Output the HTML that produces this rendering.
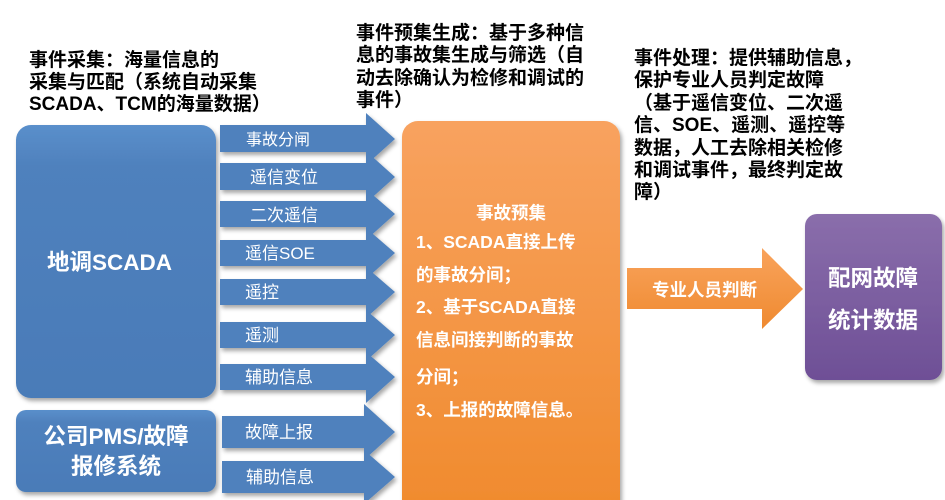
<!DOCTYPE html>
<html><head><meta charset="utf-8"><style>
html,body{margin:0;padding:0;background:#fff;width:945px;height:500px;overflow:hidden}
svg{display:block}
text{font-family:"Liberation Sans","Noto Sans CJK SC",sans-serif;font-weight:bold}
</style></head><body>
<svg width="945" height="500" viewBox="0 0 945 500" xmlns="http://www.w3.org/2000/svg">
<defs>
<linearGradient id="bl" x1="0" y1="0" x2="0" y2="1"><stop offset="0" stop-color="#5a8fcb"/><stop offset="0.15" stop-color="#4f81bd"/><stop offset="1" stop-color="#4a7bb8"/></linearGradient>
<linearGradient id="or" x1="0" y1="0" x2="0" y2="1"><stop offset="0" stop-color="#f8a25f"/><stop offset="1" stop-color="#f08a2c"/></linearGradient>
<linearGradient id="or2" x1="0" y1="0" x2="0" y2="1"><stop offset="0" stop-color="#f9a35c"/><stop offset="1" stop-color="#ef8a30"/></linearGradient>
<linearGradient id="pu" x1="0" y1="0" x2="0" y2="1"><stop offset="0" stop-color="#8a6eab"/><stop offset="1" stop-color="#6e4f96"/></linearGradient>
<filter id="sh" x="-10%" y="-10%" width="130%" height="130%"><feDropShadow dx="2" dy="3" stdDeviation="2" flood-color="#000" flood-opacity="0.35"/></filter>
</defs>
<g fill="#000" font-size="19">
<text x="29" y="66">事件采集：海量信息的</text>
<text x="29" y="88">采集与匹配（系统自动采集</text>
<text x="29" y="110">SCADA、TCM的海量数据）</text>
<text x="356" y="39">事件预集生成：基于多种信</text>
<text x="356" y="61">息的事故集生成与筛选（自</text>
<text x="356" y="84">动去除确认为检修和调试的</text>
<text x="356" y="106">事件）</text>
<text x="634" y="64">事件处理：提供辅助信息，</text>
<text x="634" y="86">保护专业人员判定故障</text>
<text x="634" y="109">（基于遥信变位、二次遥</text>
<text x="634" y="131">信、SOE、遥测、遥控等</text>
<text x="634" y="154">数据，人工去除相关检修</text>
<text x="634" y="176">和调试事件，最终判定故</text>
<text x="634" y="198">障）</text>
</g>
<g filter="url(#sh)">
<rect x="16" y="125" width="200" height="273" rx="15" fill="url(#bl)"/>
<rect x="16" y="410" width="200" height="82" rx="10" fill="url(#bl)"/>
</g>
<text x="47" y="270" font-size="22.5" fill="#fff">地调SCADA</text>
<text x="116" y="444" font-size="22.5" fill="#fff" text-anchor="middle">公司PMS/故障</text>
<text x="116" y="474" font-size="22.5" fill="#fff" text-anchor="middle">报修系统</text>
<g fill="#4f81bd" filter="url(#sh)">
<path d="M220 125H366V113L395 139L366 165V152H220Z"/>
<path d="M220 163H366V151L395 177L366 203V190H220Z"/>
<path d="M220 201H366V189L395 214L366 240V227H220Z"/>
<path d="M220 240H366V228L395 253L366 279V266H220Z"/>
<path d="M220 279H366V267L395 292L366 318V305H220Z"/>
<path d="M220 322H366V310L395 335L366 361V348H220Z"/>
<path d="M220 364H366V352L395 377L366 403V390H220Z"/>
<path d="M222 416H364V404L395 432L364 460V448H222Z"/>
<path d="M222 461H364V450L395 477L364 504V493H222Z"/>
</g>
<g fill="#fff">
<text x="246" y="145" style="font-weight:normal;font-size:16px">事故分闸</text>
<text x="250" y="183" style="font-weight:normal;font-size:17px">遥信变位</text>
<text x="250" y="221" style="font-weight:normal;font-size:17px">二次遥信</text>
<text x="245" y="259" style="font-weight:normal;font-size:17px">遥信SOE</text>
<text x="245" y="298" style="font-weight:normal;font-size:17px">遥控</text>
<text x="245" y="341" style="font-weight:normal;font-size:17px">遥测</text>
<text x="245" y="383" style="font-weight:normal;font-size:17px">辅助信息</text>
<text x="245" y="438" style="font-weight:normal;font-size:17px">故障上报</text>
<text x="246" y="483" style="font-weight:normal;font-size:17px">辅助信息</text>
</g>
<rect x="402" y="121" width="218" height="400" rx="16" fill="url(#or)" filter="url(#sh)"/>
<g fill="#fff" font-size="17.5">
<text x="511" y="219" text-anchor="middle">事故预集</text>
<text x="416" y="248">1、SCADA直接上传</text>
<text x="416" y="281">的事故分间；</text>
<text x="416" y="313">2、基于SCADA直接</text>
<text x="416" y="346">信息间接判断的事故</text>
<text x="416" y="383">分间；</text>
<text x="416" y="416">3、上报的故障信息。</text>
</g>
<path d="M627 268H762V248L803 289L762 329V309H627Z" fill="url(#or2)"/>
<text x="652" y="296" font-size="17.5" fill="#fff">专业人员判断</text>
<rect x="805" y="214" width="137" height="166" rx="12" fill="url(#pu)" filter="url(#sh)"/>
<text x="873" y="286" font-size="22.5" fill="#fff" text-anchor="middle">配网故障</text>
<text x="873" y="328" font-size="22.5" fill="#fff" text-anchor="middle">统计数据</text>
</svg>
</body></html>
